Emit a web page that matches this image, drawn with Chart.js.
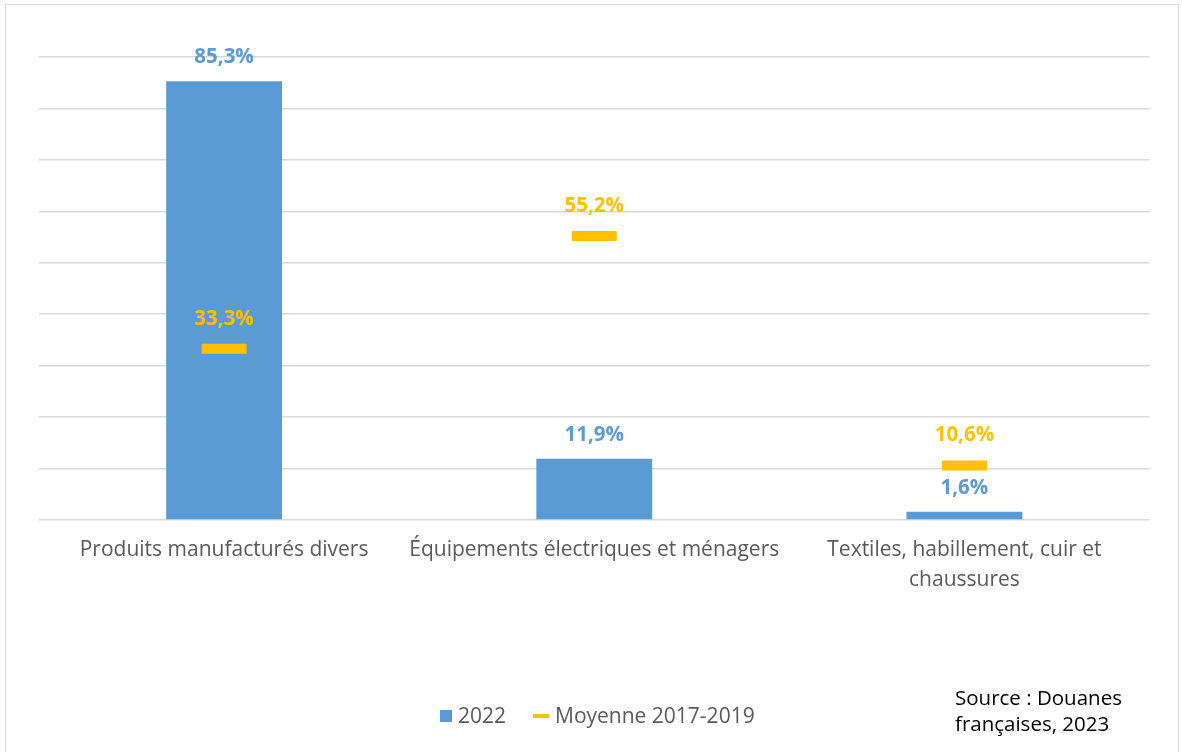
<!DOCTYPE html>
<html>
<head>
<meta charset="utf-8">
<script src="https://cdn.jsdelivr.net/npm/chart.js@4.4.0/dist/chart.umd.min.js"></script>
<style>
  html, body { margin: 0; padding: 0; background: #fff; }
  #wrap { position: relative; width: 1182px; height: 752px; overflow: hidden; }
  #frame { position: absolute; left: 5px; top: 4px; width: 1174px; height: 760px; border: 1px solid #d9d9d9; box-sizing: border-box; }
  canvas { position: absolute; left: 0; top: 0; }
  .txt { position: absolute; font-family: "Open Sans", sans-serif; font-size: 21px; color: #595959; white-space: nowrap; }
  #legend { left: 0; top: 700px; width: 1182px; height: 30px; }
  .lg-item { position: absolute; top: 0; line-height: 30px; }
  #source { left: 955px; top: 684px; color: #000; line-height: 26px; font-size: 20.5px; }
</style>
</head>
<body>
<div id="wrap">
  <div id="frame"></div>
  <canvas id="c" width="1182" height="752"></canvas>
  <div id="legend" class="txt">
    <div class="lg-item" style="left:440px;"><span style="display:inline-block;width:12px;height:12px;background:#5B9BD5;vertical-align:middle;margin-right:6px;margin-top:-3px;"></span>2022</div>
    <div class="lg-item" style="left:533px;"><span style="display:inline-block;width:16px;height:4px;background:#FFC000;vertical-align:middle;margin-right:6px;margin-top:-3px;"></span>Moyenne 2017-2019</div>
  </div>
  <div id="source" class="txt">Source : Douanes<br>françaises, 2023</div>
</div>
<script>
const categories = [
  'Produits manufacturés divers',
  'Équipements électriques et ménagers',
  ['Textiles, habillement, cuir et', 'chaussures']
];
const values2022 = [85.3, 11.9, 1.6];
const valuesMoyenne = [33.3, 55.2, 10.6];
const seriesNames = ['2022', 'Moyenne 2017-2019'];
const yMin = 0, yMax = 90, yStep = 10;

const BLUE = '#5B9BD5';
const GOLD = '#FFC000';
const fmt = v => v.toFixed(1).replace('.', ',') + '%';

const labelPlugin = {
  id: 'valueLabels',
  afterDatasetsDraw(chart) {
    const ctx = chart.ctx;
    ctx.save();
    ctx.font = 'bold 20.5px "Open Sans", sans-serif';
    ctx.textAlign = 'center';
    ctx.textBaseline = 'middle';
    const m0 = chart.getDatasetMeta(0);
    m0.data.forEach((el, i) => {
      ctx.fillStyle = BLUE;
      ctx.fillText(fmt(values2022[i]), el.x, el.y - 24);
    });
    const m1 = chart.getDatasetMeta(1);
    m1.data.forEach((el, i) => {
      ctx.fillStyle = GOLD;
      ctx.fillText(fmt(valuesMoyenne[i]), el.x, el.y - 30);
    });
    ctx.restore();
  }
};

new Chart(document.getElementById('c'), {
  type: 'bar',
  data: {
    labels: categories,
    datasets: [
      {
        label: seriesNames[0],
        data: values2022,
        backgroundColor: BLUE,
        borderWidth: 0,
        categoryPercentage: 1.0,
        barPercentage: 0.313,
        order: 2
      },
      {
        type: 'line',
        label: seriesNames[1],
        data: valuesMoyenne,
        showLine: false,
        pointStyle: 'line',
        pointRadius: 22.5,
        pointHoverRadius: 22.5,
        pointBorderWidth: 10,
        pointHoverBorderWidth: 10,
        borderColor: GOLD,
        backgroundColor: GOLD,
        order: 1
      }
    ]
  },
  options: {
    responsive: false,
    animation: false,
    events: [],
    layout: { padding: { left: 39, right: 27, top: 57, bottom: 0 } },
    plugins: { legend: { display: false }, tooltip: { enabled: false } },
    scales: {
      x: {
        grid: { display: false, drawTicks: false },
        border: { display: false },
        ticks: {
          color: '#595959',
          font: { family: '"Open Sans", sans-serif', size: 21, lineHeight: 1.43 },
          padding: 15,
          maxRotation: 0,
          autoSkip: false
        },
        afterFit(scale) { scale.height = 232; scale.paddingLeft = 0; scale.paddingRight = 0; }
      },
      y: {
        min: yMin, max: yMax,
        ticks: { display: false, stepSize: yStep },
        grid: { color: '#d9d9d9', lineWidth: 1.5, drawTicks: false },
        border: { display: false },
        afterFit(scale) { scale.width = 0; }
      }
    }
  },
  plugins: [labelPlugin]
});
</script>
</body>
</html>
